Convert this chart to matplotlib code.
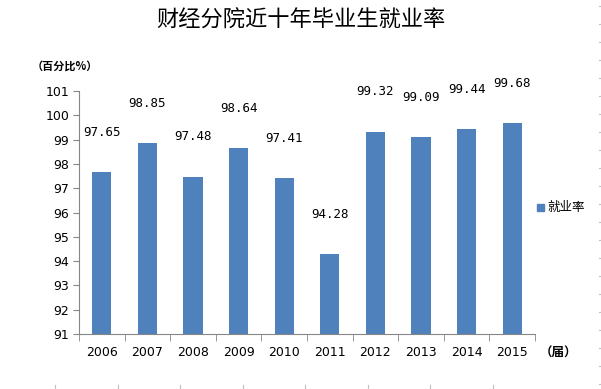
import matplotlib
matplotlib.use("Agg")
import matplotlib.pyplot as plt
from matplotlib.lines import Line2D

years = ["2006", "2007", "2008", "2009", "2010", "2011", "2012", "2013", "2014", "2015"]
rates = [97.65, 98.85, 97.48, 98.64, 97.41, 94.28, 99.32, 99.09, 99.44, 99.68]
yticks = [91, 92, 93, 94, 95, 96, 97, 98, 99, 100, 101]

plt.rcParams['font.family'] = ['Noto Sans CJK SC', 'DejaVu Sans']

W, H = 601, 389
fig = plt.figure(figsize=(W / 100, H / 100), dpi=100)
ax = fig.add_axes([79 / W, 1 - 334 / H, (535 - 79) / W, (334 - 91) / H])

color = "#4F81BD"
x = list(range(len(years)))
bars = ax.bar(x, rates, width=0.42, color=color, bottom=0, label="就业率")
ax.set_ylim(91, 101)
ax.set_xlim(-0.5, len(years) - 0.5)
ax.set_yticks(yticks)
ax.set_yticklabels([str(t) for t in yticks], fontsize=9, family=['DejaVu Sans'])
ax.set_xticks(x)
ax.set_xticklabels(years, fontsize=9, family=['DejaVu Sans'])
ax.set_xticks([i - 0.5 for i in range(len(years) + 1)], minor=True)
ax.tick_params(axis='x', which='major', length=0, pad=9)
ax.tick_params(axis='x', which='minor', length=5, direction='out', color='#868686')
ax.tick_params(axis='y', length=4, direction='out', color='#868686', pad=3)

for s in ['top', 'right']:
    ax.spines[s].set_visible(False)
for s in ['left', 'bottom']:
    ax.spines[s].set_color('#868686')

for xi, v in zip(x, rates):
    ax.annotate(f"{v:.2f}", (xi, v), xytext=(0, 24), textcoords='offset points',
                ha='center', va='bottom', fontsize=9, family=['DejaVu Sans Mono'])

fig.text(0.5, 1 - 20 / H, "财经分院近十年毕业生就业率", ha='center', va='center', fontsize=16,
         fontweight='medium')
fig.text(32 / W, 1 - 66 / H, "（百分比%）", ha='left', va='center', fontsize=8, fontweight='bold')
fig.text(540 / W, 1 - 353 / H, "（届）", ha='left', va='center', fontsize=9, fontweight='bold')

# legend
fig.patches.append(matplotlib.patches.Rectangle((537 / W, 1 - 211 / H), 7 / W, 7 / H,
                                                 transform=fig.transFigure, color=color))
fig.text(547 / W, 1 - 207.5 / H, "就业率", ha='left', va='center', fontsize=9)

# faint frame marks
for px in [55, 118, 180, 243, 305, 368, 430, 493]:
    fig.lines.append(Line2D([px / W, px / W], [0, 4 / H], transform=fig.transFigure,
                            color='#c0c0c0', lw=0.8))
for py in range(6, 389, 18):
    fig.lines.append(Line2D([599 / W, 600 / W], [1 - py / H, 1 - py / H], transform=fig.transFigure,
                            color='#c0c0c0', lw=0.8))

fig.savefig("out.png", dpi=100)
